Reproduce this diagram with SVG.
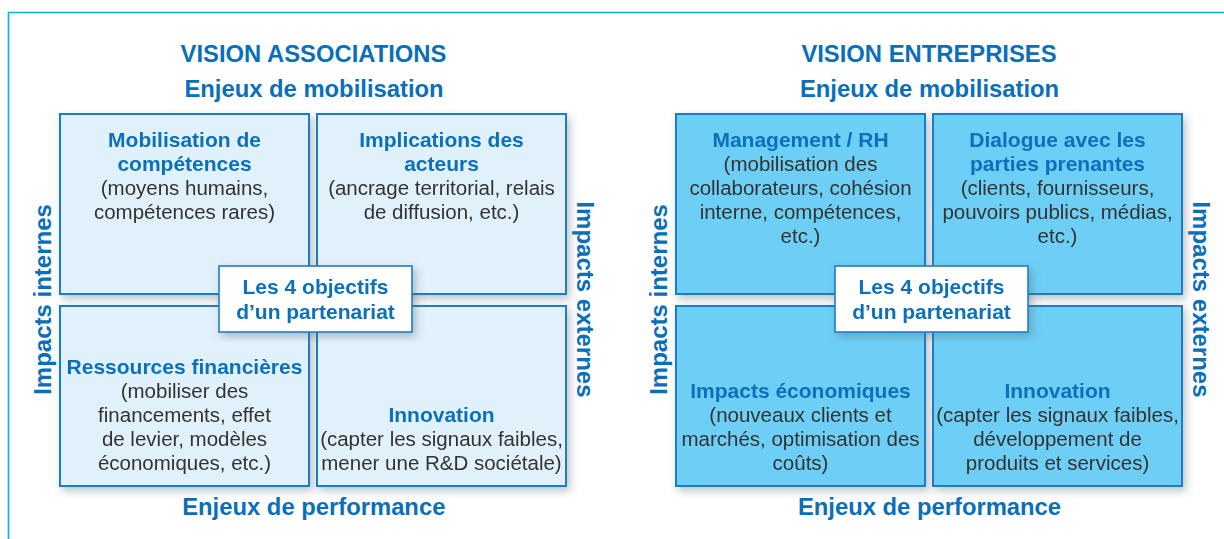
<svg xmlns="http://www.w3.org/2000/svg" width="1224" height="539" viewBox="0 0 1224 539">
  <defs>
    <filter id="sh" x="-10%" y="-10%" width="125%" height="125%">
      <feDropShadow dx="3" dy="4" stdDeviation="4" flood-color="#5a6670" flood-opacity="0.4"/>
    </filter>
    <style>
      .t { font-family: "Liberation Sans", Arial, sans-serif; text-anchor: middle; }
      .h { font-weight: bold; fill: #0a6fba; }
      .big { font-size: 23.8px; }
      .ax { font-size: 24px; }
      .bt { font-size: 21px; font-weight: bold; fill: #0a6fba; }
      .rg { font-size: 20.5px; fill: #333333; }
      .boxA { fill: #e0f1fb; stroke: #1e7dc6; stroke-width: 2; }
      .boxE { fill: #6dcff6; stroke: #1e7dc6; stroke-width: 2; }
      .ctr { fill: #ffffff; stroke: #1e7dc6; stroke-width: 1.6; }
      .frame { fill: none; stroke: #00b4f0; stroke-width: 1.6; }
    </style>
  </defs>
  <rect width="1224" height="539" fill="#ffffff"/>
  <path class="frame" d="M8.5,539 V12.5 H1224"/>

  <g id="connectors"></g>

  <!-- VISION ASSOCIATIONS -->
  <g id="vision-associations">
    <text class="t h big" x="313.5" y="61.7">VISION ASSOCIATIONS</text>
    <text class="t h big" x="314" y="96.7">Enjeux de mobilisation</text>
    <text class="t h big" x="313.8" y="515">Enjeux de performance</text>
    <text class="t h ax" transform="translate(50.5,299.5) rotate(-90)">Impacts internes</text>
    <text class="t h ax" transform="translate(577,299.5) rotate(90)">Impacts externes</text>
  </g>

  <g id="a-mobilisation" filter="url(#sh)">
    <rect class="boxA" x="60" y="114" width="249" height="180"/>
    <text class="t bt" x="184.5" y="146.7">Mobilisation de</text>
    <text class="t bt" x="184.5" y="170.7">compétences</text>
    <text class="t rg" x="184.5" y="195">(moyens humains,</text>
    <text class="t rg" x="184.5" y="219">compétences rares)</text>
  </g>
  <g id="a-implications" filter="url(#sh)">
    <rect class="boxA" x="317" y="114" width="249" height="180"/>
    <text class="t bt" x="441.5" y="146.7">Implications des</text>
    <text class="t bt" x="441.5" y="170.7">acteurs</text>
    <text class="t rg" x="441.5" y="195">(ancrage territorial, relais</text>
    <text class="t rg" x="441.5" y="219">de diffusion, etc.)</text>
  </g>
  <g id="a-ressources" filter="url(#sh)">
    <rect class="boxA" x="60" y="306" width="249" height="180"/>
    <text class="t bt" x="184.5" y="374">Ressources financières</text>
    <text class="t rg" x="184.5" y="398">(mobiliser des</text>
    <text class="t rg" x="184.5" y="422">financements, effet</text>
    <text class="t rg" x="184.5" y="446">de levier, modèles</text>
    <text class="t rg" x="184.5" y="470">économiques, etc.)</text>
  </g>
  <g id="a-innovation" filter="url(#sh)">
    <rect class="boxA" x="317" y="306" width="249" height="180"/>
    <text class="t bt" x="441.5" y="422">Innovation</text>
    <text class="t rg" x="441.5" y="446">(capter les signaux faibles,</text>
    <text class="t rg" x="441.5" y="470">mener une R&amp;D sociétale)</text>
  </g>
  <g id="a-center" filter="url(#sh)">
    <rect class="ctr" x="219" y="266" width="193" height="66"/>
    <text class="t bt" x="315.5" y="294">Les 4 objectifs</text>
    <text class="t bt" x="315.5" y="318.5">d’un partenariat</text>
  </g>

  <!-- VISION ENTREPRISES -->
  <g id="vision-entreprises">
    <text class="t h big" x="929" y="61.7">VISION ENTREPRISES</text>
    <text class="t h big" x="929.5" y="96.7">Enjeux de mobilisation</text>
    <text class="t h big" x="929.5" y="515">Enjeux de performance</text>
    <text class="t h ax" transform="translate(666.5,299.5) rotate(-90)">Impacts internes</text>
    <text class="t h ax" transform="translate(1193,299.5) rotate(90)">Impacts externes</text>
  </g>

  <g id="e-management" filter="url(#sh)">
    <rect class="boxE" x="676" y="114" width="249" height="180"/>
    <text class="t bt" x="800.5" y="146.7">Management / RH</text>
    <text class="t rg" x="800.5" y="170.7">(mobilisation des</text>
    <text class="t rg" x="800.5" y="195">collaborateurs, cohésion</text>
    <text class="t rg" x="800.5" y="219">interne, compétences,</text>
    <text class="t rg" x="800.5" y="243">etc.)</text>
  </g>
  <g id="e-dialogue" filter="url(#sh)">
    <rect class="boxE" x="933" y="114" width="249" height="180"/>
    <text class="t bt" x="1057.5" y="146.7">Dialogue avec les</text>
    <text class="t bt" x="1057.5" y="170.7">parties prenantes</text>
    <text class="t rg" x="1057.5" y="195">(clients, fournisseurs,</text>
    <text class="t rg" x="1057.5" y="219">pouvoirs publics, médias,</text>
    <text class="t rg" x="1057.5" y="243">etc.)</text>
  </g>
  <g id="e-impacts" filter="url(#sh)">
    <rect class="boxE" x="676" y="306" width="249" height="180"/>
    <text class="t bt" x="800.5" y="398">Impacts économiques</text>
    <text class="t rg" x="800.5" y="422">(nouveaux clients et</text>
    <text class="t rg" x="800.5" y="446">marchés, optimisation des</text>
    <text class="t rg" x="800.5" y="470">coûts)</text>
  </g>
  <g id="e-innovation" filter="url(#sh)">
    <rect class="boxE" x="933" y="306" width="249" height="180"/>
    <text class="t bt" x="1057.5" y="398">Innovation</text>
    <text class="t rg" x="1057.5" y="422">(capter les signaux faibles,</text>
    <text class="t rg" x="1057.5" y="446">développement de</text>
    <text class="t rg" x="1057.5" y="470">produits et services)</text>
  </g>
  <g id="e-center" filter="url(#sh)">
    <rect class="ctr" x="835" y="266" width="193" height="66"/>
    <text class="t bt" x="931.5" y="294">Les 4 objectifs</text>
    <text class="t bt" x="931.5" y="318.5">d’un partenariat</text>
  </g>
</svg>
